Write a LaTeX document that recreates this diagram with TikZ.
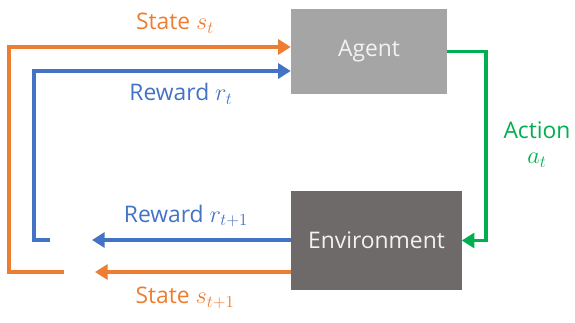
\documentclass[tikz,border=0pt]{standalone}
\usepackage{fontspec}
\setmainfont{Open Sans}
\usetikzlibrary{arrows.meta,calc}

\definecolor{stateorange}{HTML}{ED7D31}
\definecolor{rewardblue}{HTML}{4472C4}
\definecolor{actiongreen}{HTML}{00B050}
\definecolor{agentgray}{HTML}{A6A5A5}
\definecolor{envgray}{HTML}{6E6A69}

\tikzset{
  box/.style={rectangle, text=white!95!black, inner sep=0pt},
  flow/.style={line width=3.4pt, -{Triangle[length=0.38cm, width=0.45cm]}},
}

\begin{document}
\begin{tikzpicture}[x=0.03cm, y=-0.03cm, font=\fontsize{19.5}{23}\selectfont]
\useasboundingbox (0,0) rectangle (575,322);

% the two blocks
\node[box, fill=agentgray, minimum width=4.68cm, minimum height=2.55cm] (agent) at (369,51.5) {Agent};
\node[box, fill=envgray, minimum width=5.1cm, minimum height=2.97cm] (env) at (376.5,240.5) {Environment};

% loose ends of the feedback loops
\coordinate (sloop) at (64,272);
\coordinate (rloop) at (50,240);
\coordinate (snext) at (95,272);
\coordinate (rnext) at (92,240);

% state
\draw[flow, stateorange] (sloop) -- ++(-55,0) |- (agent.west |- 0,47);
\draw[flow, stateorange] (env.west |- 0,272) -- (snext);

% reward
\draw[flow, rewardblue] (rloop) -- ++(-16,0) |- (agent.west |- 0,71);
\draw[flow, rewardblue] (env.west |- 0,240) -- (rnext);

% action
\draw[flow, actiongreen] (agent.east) -- ++(39,0) |- (env.east);

% labels
\node[text=stateorange] (lst) at (175,23) {State $s_t$};
\node[text=rewardblue] (lrt) at (181,94) {Reward $r_t$};
\node[text=rewardblue] (lrn) at (186,216) {Reward $r_{t+1}$};
\node[text=stateorange] (lsn) at (185,298) {State $s_{t+1}$};
\node[text=actiongreen] (lact) at (537,130) {Action};
\node[text=actiongreen] (lat) at (537,160) {$a_t$};

\end{tikzpicture}
\end{document}
